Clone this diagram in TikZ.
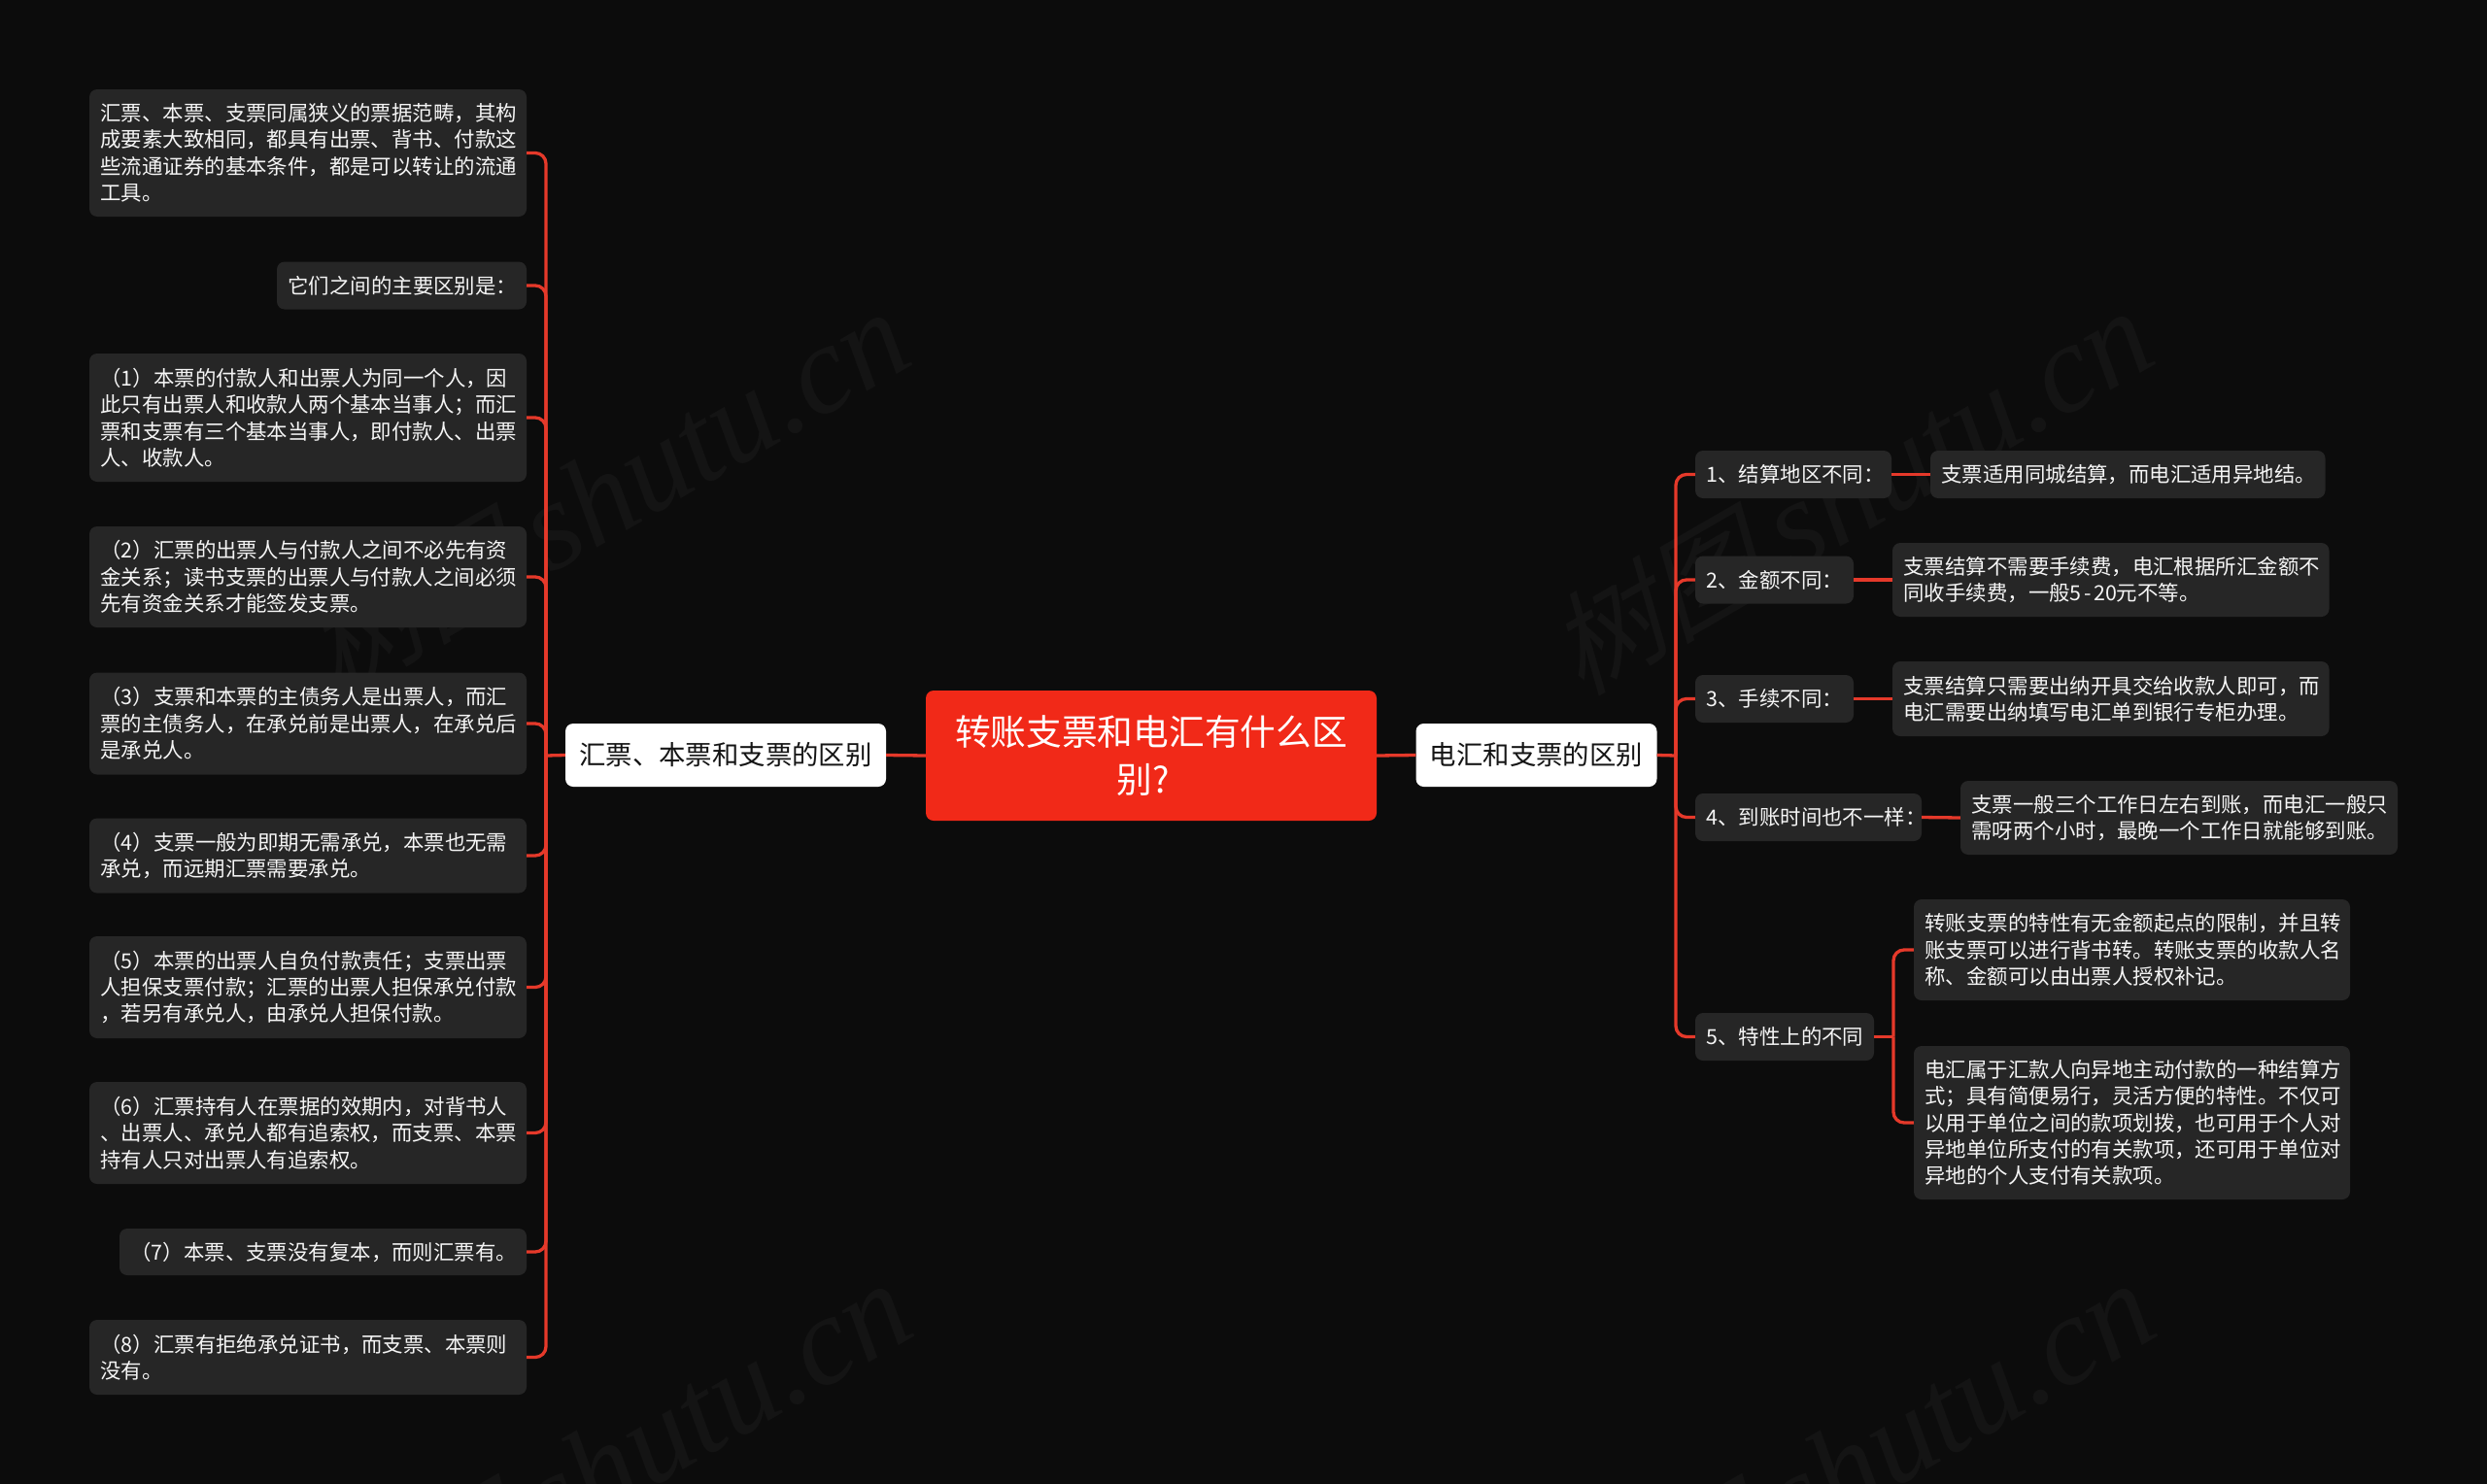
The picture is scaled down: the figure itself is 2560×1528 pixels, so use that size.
\documentclass[tikz,border=0pt]{standalone}
\usepackage{fontspec}
\setmainfont{Noto Sans CJK SC}
\newfontfamily\wmlatin{Liberation Serif Italic}
\newfontfamily\wmcjk[FakeSlant=0.25]{Noto Sans CJK SC}
\definecolor{bgc}{HTML}{0C0C0C}
\definecolor{cardc}{HTML}{262626}
\definecolor{rootc}{HTML}{F12918}
\definecolor{linec}{HTML}{E5392A}
\definecolor{wmc}{HTML}{141414}
\definecolor{txtc}{HTML}{F5F5F5}
\tikzset{
  card/.style 2 args={draw=none,fill=cardc,rounded corners=8pt,text=txtc,inner xsep=11.5pt,inner ysep=0pt,
    text width=#1pt-23pt,minimum height=#2pt,align=left,
    font={\fontsize{21.42}{27.4}\selectfont}},
  branchbox/.style 2 args={fill=white,rounded corners=8pt,text=black!92,inner sep=0pt,
    minimum width=#1pt,minimum height=#2pt,align=center,
    font={\fontsize{27.4}{34}\selectfont}},
  rootbox/.style={fill=rootc,rounded corners=8pt,text=white,inner sep=0pt,
    minimum width=464pt,minimum height=134pt,align=center,
    font={\fontsize{36.7}{49.5}\selectfont}},
  conn/.style={draw=linec,line width=3.3pt},
  elbow/.style={conn,rounded corners=11pt},
  wmark/.style={anchor=base east,rotate=30,text=wmc,inner sep=0pt},
}
\newcommand{\wmtext}{{\fontsize{115}{115}\selectfont\wmcjk 树图}\kern23pt{\fontsize{130}{130}\selectfont\wmlatin shutu.cn}}
\begin{document}
\begin{tikzpicture}[x=1pt,y=-1pt]
\path[use as bounding box,fill=bgc] (0,0) rectangle (2560,1528);
\begin{scope}
\clip (0,0) rectangle (2560,1528);
\node[wmark] (wm1) at (945,373) {\wmtext};
\node[wmark] (wm2) at (2225,372) {\wmtext};
\node[wmark] (wm3) at (947,1373) {\wmtext};
\node[wmark] (wm4) at (2227,1373) {\wmtext};
\end{scope}

\node[rootbox] (root) at (1185,778) {转账支票和电汇有什么区\\别?\kern17pt};
\node[branchbox={330}{65}] (hl) at (747,777.5) {汇票、本票和支票的区别};
\node[branchbox={248}{65}] (hr) at (1581.5,777.5) {电汇和支票的区别};

% left column
\node[card={450}{131}] (l1) at (317,157.5) {汇票、本票、支票同属狭义的票据范畴，其构\\成要素大致相同，都具有出票、背书、付款这\\些流通证券的基本条件，都是可以转让的流通\\工具。};
\node[card={257}{49}] (l2) at (413.5,294) {它们之间的主要区别是：};
\node[card={450}{132}] (l3) at (317,430) {（1）本票的付款人和出票人为同一个人，因\\此只有出票人和收款人两个基本当事人；而汇\\票和支票有三个基本当事人，即付款人、出票\\人、收款人。};
\node[card={450}{104}] (l4) at (317,594) {（2）汇票的出票人与付款人之间不必先有资\\金关系；读书支票的出票人与付款人之间必须\\先有资金关系才能签发支票。};
\node[card={450}{105}] (l5) at (317,745) {（3）支票和本票的主债务人是出票人，而汇\\票的主债务人，在承兑前是出票人，在承兑后\\是承兑人。};
\node[card={450}{77}] (l6) at (317,881) {（4）支票一般为即期无需承兑，本票也无需\\承兑，而远期汇票需要承兑。};
\node[card={450}{105}] (l7) at (317,1016.5) {（5）本票的出票人自负付款责任；支票出票\\人担保支票付款；汇票的出票人担保承兑付款\\，若另有承兑人，由承兑人担保付款。};
\node[card={450}{105}] (l8) at (317,1166.5) {（6）汇票持有人在票据的效期内，对背书人\\、出票人、承兑人都有追索权，而支票、本票\\持有人只对出票人有追索权。};
\node[card={419}{48}] (l9) at (332.5,1289) {（7）本票、支票没有复本，而则汇票有。};
\node[card={450}{77}] (l10) at (317,1397.5) {（8）汇票有拒绝承兑证书，而支票、本票则\\没有。};

% right column
\node[card={202}{49}] (r1) at (1846,488.5) {1、结算地区不同：};
\node[card={406.5}{49}] (r1c) at (2190.25,488.5) {支票适用同城结算，而电汇适用异地结。};
\node[card={163}{49}] (r2) at (1826.5,597) {2、金额不同：};
\node[card={449.5}{76}] (r2c) at (2172.75,597) {支票结算不需要手续费，电汇根据所汇金额不\\同收手续费，一般5\kern2.5pt-\kern2.5pt20元不等。};
\node[card={163}{49}] (r3) at (1826.5,719.5) {3、手续不同：};
\node[card={449.5}{77}] (r3c) at (2172.75,719.5) {支票结算只需要出纳开具交给收款人即可，而\\电汇需要出纳填写电汇单到银行专柜办理。};
\node[card={233}{49}] (r4) at (1861.5,841.5) {4、到账时间也不一样：};
\node[card={450}{76}] (r4c) at (2243,842) {支票一般三个工作日左右到账，而电汇一般只\\需呀两个小时，最晚一个工作日就能够到账。};
\node[card={184}{49}] (r5) at (1837,1067.5) {5、特性上的不同};
\node[card={449}{104}] (r5a) at (2194.5,978) {转账支票的特性有无金额起点的限制，并且转\\账支票可以进行背书转。转账支票的收款人名\\称、金额可以由出票人授权补记。};
\node[card={449}{158}] (r5b) at (2194.5,1156) {电汇属于汇款人向异地主动付款的一种结算方\\式；具有简便易行，灵活方便的特性。不仅可\\以用于单位之间的款项划拨，也可用于个人对\\异地单位所支付的有关款项，还可用于单位对\\异地的个人支付有关款项。};

% junctions
\coordinate (jl) at (562,778);
\coordinate (jr) at (1725,778);
\coordinate (j5) at (1949,1067.5);

% connectors
\draw[conn] (root.west) -- (hl.east);
\draw[conn] (root.east) -- (hr.west);
\draw[conn] (hl.west) -- (jl);
\draw[conn] (hr.east) -- (jr);
\foreach \c in {l1,l2,l3,l4,l5,l6,l7,l8,l9,l10} \draw[elbow] (jl) |- (\c.east);
\foreach \c in {r1,r2,r3,r4,r5} \draw[elbow] (jr) |- (\c.west);
\draw[conn] (r1.east) -- (r1c.west);
\draw[conn] (r2.east) -- (r2c.west);
\draw[conn] (r3.east) -- (r3c.west);
\draw[conn] (r4.east) -- (r4c.west);
\draw[conn] (r5.east) -- (j5);
\draw[elbow] (j5) |- (r5a.west);
\draw[elbow] (j5) |- (r5b.west);
\end{tikzpicture}
\end{document}
